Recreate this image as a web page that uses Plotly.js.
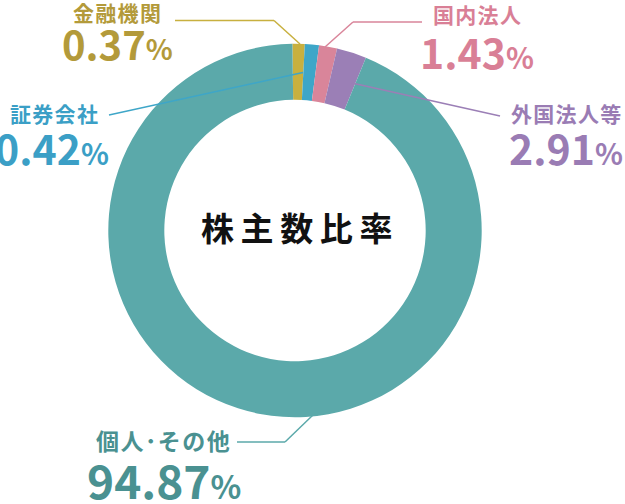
<!DOCTYPE html>
<html>
<head>
<meta charset="utf-8">
<script src="https://cdn.plot.ly/plotly-3.0.1.min.js"></script>
<style>
html,body{margin:0;padding:0;background:#fff}
#chart{width:625px;height:504px}
</style>
</head>
<body>
<div id="chart"></div>
<script>
// categories in drawing order, clockwise from 12 o'clock
let categories = ["金融機関", "証券会社", "国内法人", "外国法人等", "個人･その他"]
// shares printed on the chart (%)
let shares = [0.37, 0.42, 1.43, 2.91, 94.87]
// arc sizes as drawn in the picture (small slices are enlarged there)
let arcs = [1.06, 1.22, 1.56, 2.58, 93.58]
let sliceColors = ["#c8b03f", "#3ea6c8", "#d9859a", "#9b7fb6", "#5ba9aa"]
let textColors = ["#b39a3a", "#3b9fc6", "#d97f96", "#9a7cb4", "#4a9191"]

const W = 625, H = 504
function px(x){ return x / W }
function py(y){ return 1 - y / H }

// label placement (pixels): label centre, number centre, sizes
let labelPos = [
  {lx:117, ly:12, ls:21, nx:117, ny:43, ns:40},
  {lx:54, ly:113, ls:21, nx:52, ny:147, ns:41},
  {lx:477, ly:14, ls:21, nx:477, ny:51, ns:41},
  {lx:566, ly:113, ls:21, nx:566, ny:147, ns:41},
  {lx:163, ly:440, ls:23, nx:164, ny:479, ns:46}
]
// leader lines (pixels)
let leaders = [
  [[175,20.5],[274,20.5],[300,44]],
  [[109,115],[303,72.5]],
  [[422,22],[353,22],[325,47]],
  [[500,116],[352,83]],
  [[237,442],[285,442],[313,415]]
]

let font = "'Noto Sans CJK JP', 'Noto Sans', sans-serif"

let annotations = []
let shapes = []

categories.forEach((c,i)=>{
  let p = labelPos[i]
  annotations.push({
    xref:"paper", yref:"paper", x:px(p.lx), y:py(p.ly),
    xanchor:"center", yanchor:"middle", showarrow:false,
    text:c.split("").join("\u200a"),
    font:{family:font, size:p.ls, weight:700, color:textColors[i]}
  })
  annotations.push({
    xref:"paper", yref:"paper", x:px(p.nx), y:py(p.ny),
    xanchor:"center", yanchor:"middle", showarrow:false,
    text:shares[i].toFixed(2) + "<span style='font-size:" + Math.round(p.ns*0.7) + "px'>%</span>",
    font:{family:font, size:p.ns, weight:700, color:textColors[i]}
  })
  let pts = leaders[i]
  for(let k=0;k<pts.length-1;k++){
    shapes.push({
      type:"line", xref:"paper", yref:"paper",
      x0:px(pts[k][0]), y0:py(pts[k][1]), x1:px(pts[k+1][0]), y1:py(pts[k+1][1]),
      line:{color:sliceColors[i], width:1.5}
    })
  }
})

annotations.push({
  xref:"paper", yref:"paper", x:px(296), y:py(227),
  xanchor:"center", yanchor:"middle", showarrow:false,
  text:"株主数比率".split("").join("\u2009"),
  font:{family:font, size:33, weight:700, color:"#111111"}
})

// donut: centre (295,230.5), outer radius ~186.7px
let cx = 295, cy = 230.5, r = 186.7

Plotly.newPlot("chart",[{
  type:"pie",
  labels:categories,
  values:arcs,
  sort:false,
  direction:"clockwise",
  rotation:-0.8,
  hole:0.70,
  textinfo:"none",
  hoverinfo:"label",
  showlegend:false,
  marker:{colors:sliceColors, line:{width:0}},
  domain:{x:[px(cx-r), px(cx+r)], y:[py(cy+r), py(cy-r)]}
}],{
  width:W, height:H,
  margin:{l:0,r:0,t:0,b:0},
  paper_bgcolor:"#ffffff",
  plot_bgcolor:"#ffffff",
  showlegend:false,
  annotations:annotations,
  shapes:shapes
},{displayModeBar:false, staticPlot:true})
</script>
</body>
</html>
